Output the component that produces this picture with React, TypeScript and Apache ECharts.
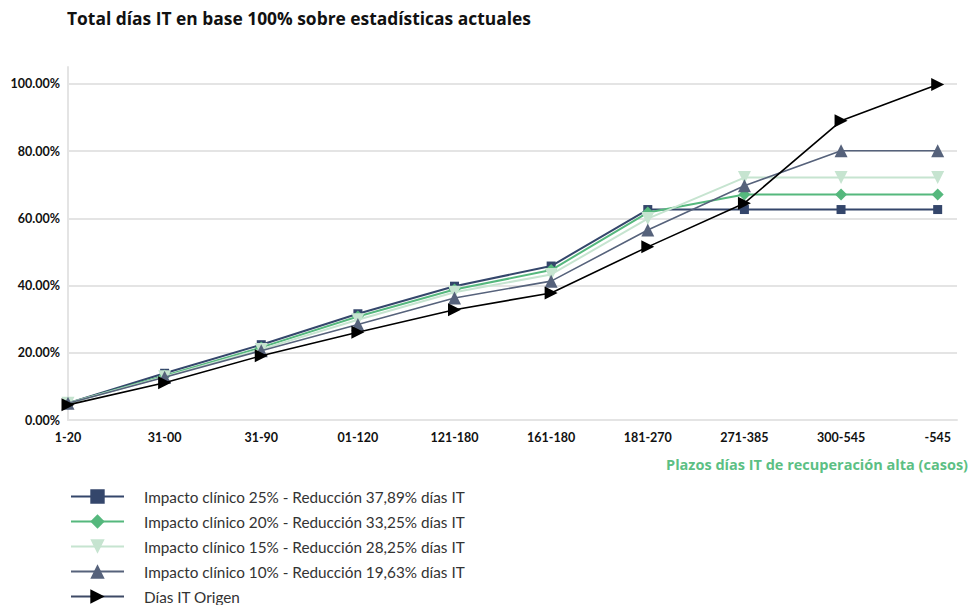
import React, { useEffect, useRef } from "react";
import * as echarts from "echarts";

const categories = ["1-20", "31-00", "31-90", "01-120", "121-180", "161-180", "181-270", "271-385", "300-545", "-545"];

const impacto25 = [5.0, 13.9, 22.4, 31.6, 39.8, 45.8, 62.6, 62.6, 62.6, 62.6];
const impacto20 = [5.0, 13.2, 21.6, 30.8, 38.8, 44.6, 61.7, 67.1, 67.1, 67.1];
const impacto15 = [5.0, 12.9, 21.0, 29.8, 38.0, 43.3, 59.9, 72.1, 72.1, 72.1];
const impacto10 = [5.0, 12.7, 20.6, 28.4, 36.3, 41.3, 56.5, 69.7, 80.1, 80.1];
const origen = [4.5, 11.1, 19.1, 26.1, 32.8, 37.8, 51.5, 64.5, 89.0, 99.8];

const seriesNames = [
  "Impacto clínico 25% - Reducción 37,89% días IT",
  "Impacto clínico 20% - Reducción 33,25% días IT",
  "Impacto clínico 15% - Reducción 28,25% días IT",
  "Impacto clínico 10% - Reducción 19,63% días IT",
  "Días IT Origen",
];

const yTicks = [0, 20, 40, 60, 80, 100];

const FONT = "Lato, 'Noto Sans', sans-serif";
const HEAD_FONT = "'Open Sans', Lato, sans-serif";
const ARROW_RIGHT = "path://M0,0L10,5L0,10Z";
const TRIANGLE_DOWN = "path://M0,0L10,0L5,10Z";

const toPoints = (vals: number[]) => vals.map((v, i) => [i, v]);

export default function App() {
  const ref = useRef<HTMLDivElement>(null);

  useEffect(() => {
    if (!ref.current) return;
    const chart = echarts.init(ref.current, undefined, { renderer: "svg" });

    const defs = [
      { data: impacto25, color: "#34466b", symbol: "rect", size: 9, lw: 2 },
      { data: impacto20, color: "#55b87d", symbol: "diamond", size: 12, lw: 2 },
      { data: impacto15, color: "#c6e4d0", symbol: TRIANGLE_DOWN, size: 13, lw: 2 },
      { data: impacto10, color: "#56627b", symbol: "triangle", size: 13, lw: 1.6 },
      { data: origen, color: "#000000", symbol: ARROW_RIGHT, size: 13, lw: 1.6 },
    ];

    chart.setOption({
      animation: false,
      title: {
        text: "Total días IT en base 100% sobre estadísticas actuales",
        left: 67,
        top: 9,
        padding: 0,
        textStyle: { fontFamily: HEAD_FONT, fontSize: 17.4, fontWeight: "bold", color: "#111" },
      },
      grid: { left: 68, right: 15, top: 67, bottom: 185 },
      xAxis: {
        type: "value",
        min: 0,
        max: 9.2,
        interval: 1,
        axisLine: { show: true, lineStyle: { color: "#e4e4e4", width: 2 } },
        axisTick: { show: false },
        splitLine: { show: false },
        axisLabel: {
          margin: 11,
          fontFamily: FONT,
          fontSize: 12.5,
          fontWeight: "bold",
          color: "#111",
          formatter: (v: number) => (Number.isInteger(v) && categories[v] !== undefined ? categories[v] : ""),
        },
      },
      yAxis: {
        type: "value",
        min: 0,
        max: 105,
        interval: 20,
        axisLine: { show: true, lineStyle: { color: "#e4e4e4", width: 2 } },
        axisTick: { show: false },
        splitLine: {
          show: true,
          lineStyle: {
            color: ["#e4e4e4", "#e4e4e4", "#e4e4e4", "#e4e4e4", "#e4e4e4", "#e4e4e4", "rgba(0,0,0,0)"],
            width: 2,
          },
        },
        axisLabel: {
          margin: 8,
          fontFamily: FONT,
          fontSize: 12.5,
          fontWeight: "bold",
          color: "#111",
          formatter: (v: number) => (yTicks.includes(v) ? v.toFixed(2) + "%" : ""),
        },
      },
      legend: {
        orient: "vertical",
        left: 65,
        top: 484,
        height: 160,
        itemWidth: 53,
        itemHeight: 18,
        itemGap: 10,
        textStyle: { fontFamily: FONT, fontSize: 15.3, color: "#333", padding: [0, 0, 0, 15] },
        data: seriesNames.map((name, i) =>
          i === 4 ? { name, lineStyle: { color: "#3e4a66", width: 2 } } : { name }
        ),
      },
      graphic: [
        {
          type: "text",
          right: 4,
          top: 457,
          style: {
            text: "Plazos días IT de recuperación alta (casos)",
            fontFamily: HEAD_FONT,
            fontSize: 14.5,
            fontWeight: "bold",
            fill: "#5cbf84",
          },
        },
      ],
      series: defs.map((d, i) => ({
        name: seriesNames[i],
        type: "line",
        data: toPoints(d.data),
        symbol: d.symbol,
        symbolSize: d.size,
        showAllSymbol: true,
        lineStyle: { color: d.color, width: d.lw },
        itemStyle: { color: d.color },
        z: 2 + i,
      })),
    });

    return () => chart.dispose();
  }, []);

  return <div ref={ref} style={{ width: 972, height: 605, position: "absolute", left: 0, top: 0 }} />;
}
